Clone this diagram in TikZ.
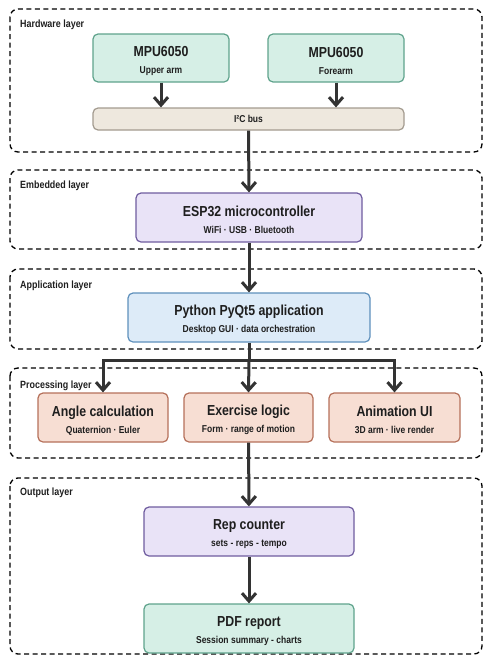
\documentclass[tikz,border=0pt]{standalone}
\usepackage{fontspec}
\setmainfont{Liberation Sans}[FakeStretch=0.85]
\usetikzlibrary{arrows.meta}

\definecolor{hwfill}{HTML}{D6EFE6}
\definecolor{hwline}{HTML}{5FA38C}
\definecolor{busfill}{HTML}{EEE8DE}
\definecolor{busline}{HTML}{A39B8F}
\definecolor{embfill}{HTML}{E9E3F7}
\definecolor{embline}{HTML}{6F5C9F}
\definecolor{appfill}{HTML}{DDEBF8}
\definecolor{appline}{HTML}{5E90BC}
\definecolor{procfill}{HTML}{F7DED3}
\definecolor{procline}{HTML}{B5705A}
\definecolor{flowcol}{HTML}{333333}
\definecolor{txtcol}{HTML}{1E1E1E}

\newcommand{\ttl}{\fontsize{14.5}{17}\selectfont\bfseries\rule{0pt}{16pt}}
\newcommand{\subt}{\fontsize{10}{17}\selectfont\bfseries}

\tikzset{
  box/.style={rectangle, rounded corners=5pt, line width=1.2pt, align=center,
    inner sep=0pt, text=txtcol, font=\fontsize{10}{17}\selectfont},
  hwbox/.style={box, draw=hwline, fill=hwfill},
  busbox/.style={box, draw=busline, fill=busfill},
  embbox/.style={box, draw=embline, fill=embfill},
  appbox/.style={box, draw=appline, fill=appfill},
  procbox/.style={box, draw=procline, fill=procfill},
  layer/.style={draw=black, line width=1.3pt, dash pattern=on 5pt off 3.5pt, rounded corners=8pt},
  layerlabel/.style={anchor=west, inner sep=0pt, text=txtcol, font=\fontsize{10.5}{12}\selectfont\bfseries},
  flow/.style={draw=flowcol, line width=3pt},
  arrow/.style={flow, -{Straight Barb[length=8pt, width=14pt]}},
}

\begin{document}
\begin{tikzpicture}[x=1pt, y=-1pt]
\useasboundingbox (0,0) rectangle (484,656);

% layers
\draw[layer] (10,9) rectangle (482,152);
\draw[layer] (10,170) rectangle (482,249);
\draw[layer] (10,269) rectangle (482,349);
\draw[layer] (10,368) rectangle (482,458);
\draw[layer] (10,478) rectangle (482,654);

\node[layerlabel] (hwlbl) at (20,25) {Hardware layer};
\node[layerlabel] (emblbl) at (20,186) {Embedded layer};
\node[layerlabel] (applbl) at (20,286) {Application layer};
\node[layerlabel] (proclbl) at (20,386) {Processing layer};
\node[layerlabel] (outlbl) at (20,493) {Output layer};

% nodes
\node[hwbox, minimum width=136pt, minimum height=48pt] (mpuA) at (161,58) {{\ttl MPU6050}\\{\subt Upper arm}};
\node[hwbox, minimum width=136pt, minimum height=48pt] (mpuB) at (336,58) {{\ttl MPU6050}\\{\subt Forearm}};
\node[busbox, minimum width=311pt, minimum height=22pt, font=\fontsize{10}{12}\selectfont\bfseries] (bus) at (248.5,119) {I²C bus};
\node[embbox, minimum width=226pt, minimum height=49pt] (esp) at (249,217.5) {{\ttl ESP32 microcontroller}\\{\subt WiFi · USB · Bluetooth}};
\node[appbox, minimum width=242pt, minimum height=49pt] (app) at (249,317.5) {{\ttl Python PyQt5 application}\\{\subt Desktop GUI · data orchestration}};
\node[procbox, minimum width=130pt, minimum height=49pt] (angle) at (103,417.5) {{\ttl Angle calculation}\\{\subt Quaternion · Euler}};
\node[procbox, minimum width=129pt, minimum height=49pt] (logic) at (248.5,417.5) {{\ttl Exercise logic}\\{\subt Form · range of motion}};
\node[procbox, minimum width=131pt, minimum height=49pt] (anim) at (394.5,417.5) {{\ttl Animation UI}\\{\subt 3D arm · live render}};
\node[embbox, minimum width=210pt, minimum height=49pt] (rep) at (249,531.5) {{\ttl Rep counter}\\{\subt sets - reps - tempo}};
\node[hwbox, minimum width=210pt, minimum height=49pt] (pdf) at (249,628.5) {{\ttl PDF report}\\{\subt Session summary - charts}};

\coordinate (split) at (249,360);

% connectors
\draw[arrow] (mpuA.south) -- (mpuA.south |- bus.north);
\draw[arrow] (mpuB.south) -- (mpuB.south |- bus.north);
\draw[arrow] (bus.south) -- (esp.north);
\draw[arrow] (esp) -- (app);
\draw[flow] (app.south) -- (split);
\draw[arrow] (split) -| (angle.north);
\draw[arrow] (split) -| (anim.north);
\draw[arrow] (split) -- (logic.north);
\draw[arrow] (logic) -- (rep);
\draw[arrow] (rep) -- (pdf);
\end{tikzpicture}
\end{document}
